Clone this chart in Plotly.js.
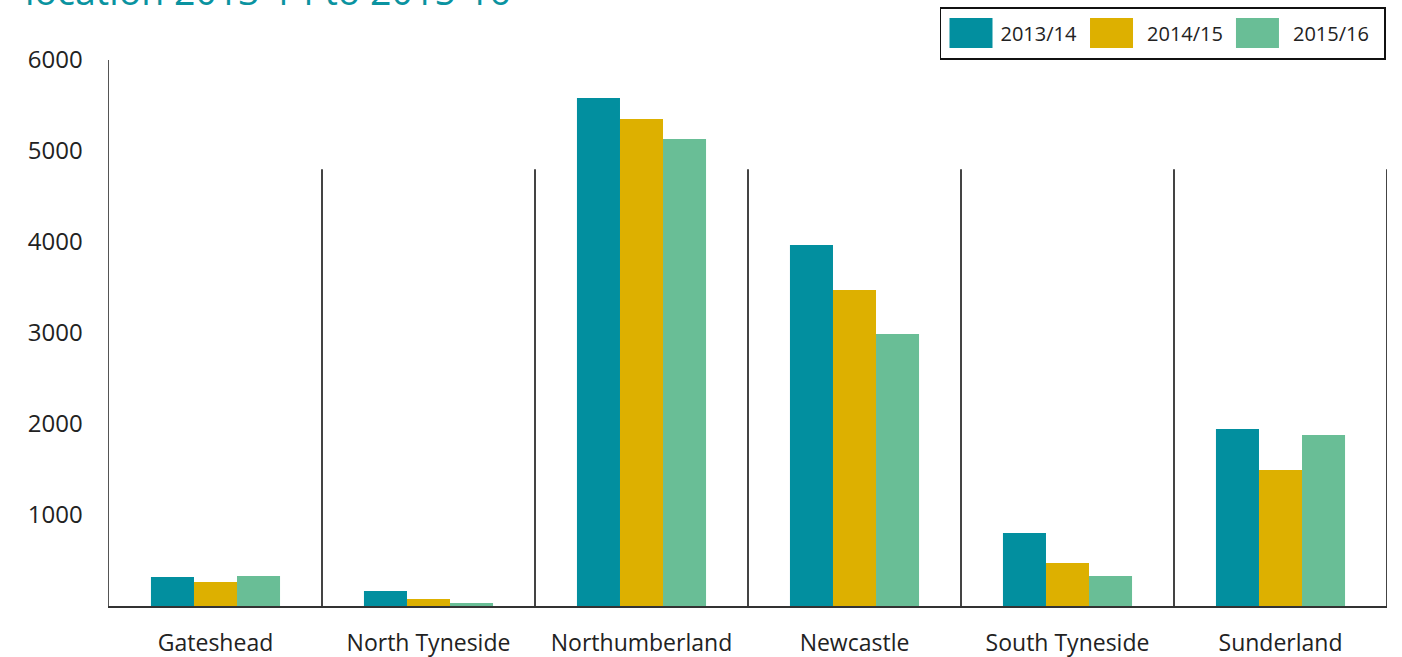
<!DOCTYPE html>
<html>
<head>
<meta charset="utf-8">
<script src="https://cdn.plot.ly/plotly-3.0.1.min.js"></script>
<style>
html,body{margin:0;padding:0;background:#fff;overflow:hidden;}
#chart{width:1402px;height:657px;}
</style>
</head>
<body>
<div id="chart"></div>
<script>
const categories = ["Gateshead", "North Tyneside", "Northumberland", "Newcastle", "South Tyneside", "Sunderland"];
const seriesNames = ["2013/14", "2014/15", "2015/16"];
const values2013 = [319, 165, 5582, 3967, 802, 1945];
const values2014 = [264, 77, 5352, 3473, 473, 1495];
const values2015 = [330, 33, 5132, 2989, 330, 1879];
const yTicks = [1000, 2000, 3000, 4000, 5000, 6000];
const separatorHeight = 4800;
const titleText = "location 2013-14 to 2015-16";

const colors = ["#028f9f", "#ddb000", "#69be96"];
const seriesValues = [values2013, values2014, values2015];

const traces = seriesValues.map((vals, i) => ({
  type: "bar",
  name: seriesNames[i],
  x: categories.map((c, k) => k),
  y: vals,
  marker: {color: colors[i], line: {width: 0}},
  hoverinfo: "x+y+name"
}));

const shapes = [];
for (let k = 0; k < categories.length; k++) {
  shapes.push({
    type: "line", xref: "x", yref: "y",
    x0: k + 0.5, x1: k + 0.5, y0: 0, y1: separatorHeight,
    line: {color: "#444", width: 2}
  });
}

const font = "'Open Sans', 'Noto Sans', sans-serif";
const layout = {
  width: 1402, height: 657,
  margin: {l: 109, r: 15, t: 60, b: 51, pad: 0, autoexpand: false},
  paper_bgcolor: "#fff", plot_bgcolor: "#fff",
  font: {family: font, color: "#222"},
  barmode: "group",
  bargap: 0.394,
  bargroupgap: 0,
  title: {
    text: titleText,
    font: {family: font, size: 37.5, color: "#0a93a0"},
    xref: "container", yref: "container",
    x: 25 / 1402, xanchor: "left",
    y: 1 - 5 / 657, yanchor: "bottom",
    automargin: false
  },
  xaxis: {
    range: [-0.5, 5.5],
    tickvals: categories.map((c, k) => k),
    ticktext: categories,
    showgrid: false, zeroline: false,
    showline: true, linecolor: "#333", linewidth: 2,
    ticks: "", ticklabelstandoff: 15,
    tickfont: {family: font, size: 23, color: "#222"},
    automargin: false,
    fixedrange: true
  },
  yaxis: {
    range: [0, 6000],
    tickvals: yTicks,
    ticktext: yTicks.map(String),
    showgrid: false, zeroline: false,
    showline: true, linecolor: "#555", linewidth: 1.5,
    ticks: "", ticklabelstandoff: 20,
    tickfont: {family: font, size: 24, color: "#222"},
    automargin: false,
    fixedrange: true
  },
  shapes: shapes,
  showlegend: true,
  legend: {
    orientation: "h",
    x: (1376 - 109) / 1278, xanchor: "right",
    y: (606 - 12) / 546, yanchor: "top",
    bordercolor: "#111", borderwidth: 1.5,
    bgcolor: "#fff",
    font: {family: font, size: 20, color: "#222"},
    itemwidth: 55,
    traceorder: "normal",
    itemclick: false, itemdoubleclick: false
  }
};

Plotly.newPlot("chart", traces, layout, {displayModeBar: false, staticPlot: true}).then(gd => {
  // enlarge legend swatches to match the reference's wide rectangular keys
  let minLeft = Infinity, maxRight = -Infinity, top = Infinity, bottom = -Infinity;
  gd.querySelectorAll(".legend .traces").forEach((tr, i) => {
    const txt = tr.querySelector(".legendtext");
    const path = tr.querySelector(".legendpoints path");
    if (!txt || !path) return;
    const bb = path.getBBox();
    const pr = path.getBoundingClientRect();
    const trc = txt.getBoundingClientRect();
    const curCenter = (pr.left + pr.right) / 2;
    const gap = i === 0 ? 8 : 14;
    const targetCenter = trc.left - gap - 21.5;
    const dx = targetCenter - curCenter;
    const cx = bb.x + bb.width / 2 + dx;
    const cy = bb.y + bb.height / 2;
    path.setAttribute("d", `M${cx - 21.5},${cy - 15}H${cx + 21.5}V${cy + 15}H${cx - 21.5}Z`);
    const nr = path.getBoundingClientRect();
    minLeft = Math.min(minLeft, nr.left);
    maxRight = Math.max(maxRight, trc.right);
    top = Math.min(top, nr.top);
    bottom = Math.max(bottom, nr.bottom);
  });
  const bg = gd.querySelector(".legend rect.bg");
  if (bg && isFinite(minLeft)) {
    const br = bg.getBoundingClientRect();
    const x = parseFloat(bg.getAttribute("x") || 0);
    const y = parseFloat(bg.getAttribute("y") || 0);
    const newLeft = minLeft - 9, newRight = maxRight + 16;
    const newTop = top - 10, newBottom = bottom + 11;
    bg.setAttribute("x", x + (newLeft - br.left));
    bg.setAttribute("y", y + (newTop - br.top));
    bg.setAttribute("width", newRight - newLeft);
    bg.setAttribute("height", newBottom - newTop);
  }
});
</script>
</body>
</html>
